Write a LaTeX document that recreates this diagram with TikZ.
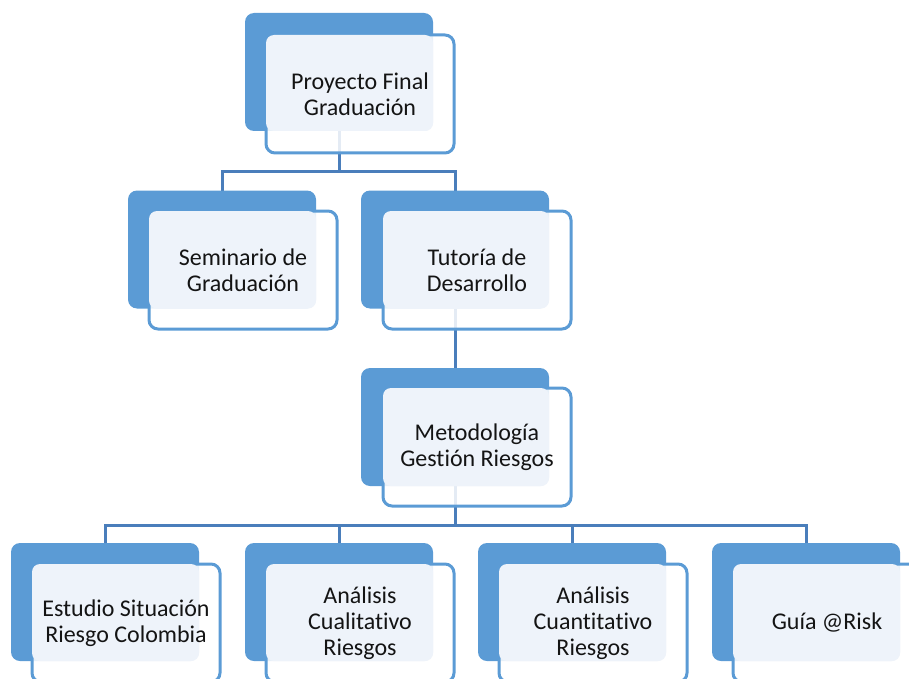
\documentclass[tikz,border=0pt]{standalone}
\usepackage{fontspec}
\setmainfont{Carlito}[Ligatures=NoCommon]
\usepackage{tikz}
\usepackage{xcolor}
\usetikzlibrary{backgrounds}
\definecolor{backblue}{RGB}{91,155,213}
\definecolor{lineblue}{RGB}{74,126,187}
\definecolor{lightfill}{RGB}{238,243,250}
\definecolor{textgray}{RGB}{20,20,20}

\begin{document}
\begin{tikzpicture}[x=1pt,y=-1pt,
  backbox/.style={rectangle,rounded corners=9pt,fill=backblue,minimum width=188pt,minimum height=118pt,inner sep=0pt,outer sep=0pt},
  frontbox/.style={rectangle,rounded corners=9pt,draw=backblue,line width=3pt,fill=white,fill opacity=0.85,minimum width=188pt,minimum height=118pt,inner sep=0pt,outer sep=0pt},
  boxtext/.style={align=center,text=textgray,font=\fontsize{24}{26}\selectfont},
  link/.style={draw=lineblue,line width=3pt}]
\useasboundingbox (0,0) rectangle (909,679);
\clip (0,0) rectangle (909,679);
% top
\node[backbox] (pf-b) at (339,72) {};
\node[frontbox] (pf) at (360,94) {};
\fill[lightfill,rounded corners=8pt] (pf.north west) rectangle (pf-b.south east);
\node[boxtext] (pf-t) at (pf) {Proyecto Final\\Graduación};
% second row
\node[backbox] (sem-b) at (222,249.5) {};
\node[frontbox] (sem) at (243,270) {};
\fill[lightfill,rounded corners=8pt] (sem.north west) rectangle (sem-b.south east);
\node[boxtext] (sem-t) at (sem) {Seminario de\\Graduación};
\node[backbox] (tut-b) at (455,249.5) {};
\node[frontbox] (tut) at (477,270) {};
\fill[lightfill,rounded corners=8pt] (tut.north west) rectangle (tut-b.south east);
\node[boxtext] (tut-t) at (tut) {Tutoría de\\Desarrollo};
% third row
\node[backbox] (met-b) at (455,427) {};
\node[frontbox] (met) at (477,447) {};
\fill[lightfill,rounded corners=8pt] (met.north west) rectangle (met-b.south east);
\node[boxtext] (met-t) at (met) {Metodología\\Gestión Riesgos};
% bottom row
\node[backbox] (est-b) at (105,602) {};
\node[frontbox] (est) at (126,623) {};
\fill[lightfill,rounded corners=8pt] (est.north west) rectangle (est-b.south east);
\node[boxtext] (est-t) at (est) {Estudio Situación\\Riesgo Colombia};
\node[backbox] (cual-b) at (339,602) {};
\node[frontbox] (cual) at (360,623) {};
\fill[lightfill,rounded corners=8pt] (cual.north west) rectangle (cual-b.south east);
\node[boxtext] (cual-t) at (cual) {Análisis\\Cualitativo\\Riesgos};
\node[backbox] (cuan-b) at (572,602) {};
\node[frontbox] (cuan) at (593,623) {};
\fill[lightfill,rounded corners=8pt] (cuan.north west) rectangle (cuan-b.south east);
\node[boxtext] (cuan-t) at (cuan) {Análisis\\Cuantitativo\\Riesgos};
\node[backbox] (guia-b) at (806,602) {};
\node[frontbox] (guia) at (827,623) {};
\fill[lightfill,rounded corners=8pt] (guia.north west) rectangle (guia-b.south east);
\node[boxtext] (guia-t) at (guia) {Guía @Risk};
% connectors
\begin{scope}[on background layer]
\coordinate (pf-bus) at (339,172);
\draw[link] (pf-b.south) -- (pf-bus) -| (sem-b.north);
\draw[link] (pf-bus) -| (tut-b.north);
\draw[link] (tut-b.south) -- (met-b.north);
\coordinate (met-bus) at (455,525);
\draw[link] (met-b.south) -- (met-bus) -| (est-b.north);
\draw[link] (met-bus) -| (cual-b.north);
\draw[link] (met-bus) -| (cuan-b.north);
\draw[link] (met-bus) -| (guia-b.north);
\end{scope}
\end{tikzpicture}
\end{document}
